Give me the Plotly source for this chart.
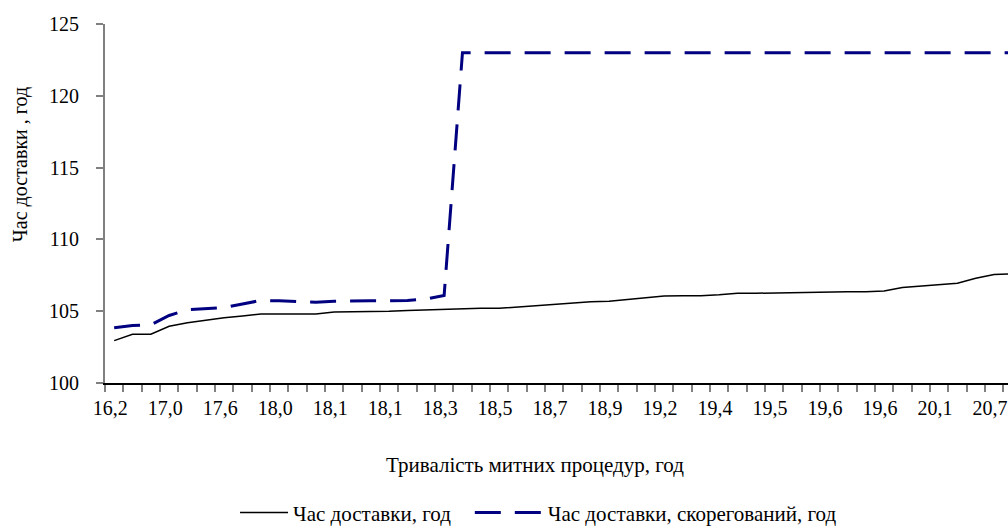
import plotly.graph_objects as go

tick_labels = ["16,2", "17,0", "17,6", "18,0", "18,1", "18,1", "18,3", "18,5", "18,7",
               "18,9", "19,2", "19,4", "19,5", "19,6", "19,6", "20,1", "20,7"]

delivery_time = [102.95, 103.4, 103.4, 103.95, 104.2, 104.4, 104.55, 104.67, 104.8, 104.8,
                 104.8, 104.8, 104.95, 104.95, 104.95, 105.0, 105.05, 105.1, 105.1, 105.15,
                 105.2, 105.2, 105.3, 105.4, 105.5, 105.6, 105.65, 105.7, 105.8, 105.9,
                 106.05, 106.08, 106.08, 106.15, 106.25, 106.25, 106.28, 106.3, 106.33, 106.36,
                 106.36, 106.36, 106.4, 106.65, 106.75, 106.85, 106.95, 107.3, 107.55, 107.6]

delivery_time_adj = [103.85, 104.0, 104.05, 104.7, 105.1, 105.2, 105.25, 105.5, 105.75, 105.72,
                     105.65, 105.62, 105.7, 105.73, 105.73, 105.73, 105.75, 105.85, 106.1, 123.0,
                     123.0, 123.0, 123.0, 123.0, 123.0, 123.0, 123.0, 123.0, 123.0, 123.0,
                     123.0, 123.0, 123.0, 123.0, 123.0, 123.0, 123.0, 123.0, 123.0, 123.0,
                     123.0, 123.0, 123.0, 123.0, 123.0, 123.0, 123.0, 123.0, 123.0, 123.0]

x = list(range(len(delivery_time)))
label_pos = x[::3][:len(tick_labels)]

FONT = "Liberation Serif, Times New Roman, serif"

fig = go.Figure()
fig.add_trace(go.Scatter(x=x, y=delivery_time, mode="lines",
                         line=dict(color="black", width=1.5),
                         name="Час доставки, год", legend="legend"))
fig.add_trace(go.Scatter(x=x, y=delivery_time_adj, mode="lines",
                         line=dict(color="#000080", width=3, dash="26px,14px"),
                         name="Час доставки, скорегований, год", legend="legend2"))

leg_common = dict(orientation="h", xanchor="left", y=-0.362, yanchor="middle",
                  font=dict(size=21), bgcolor="rgba(0,0,0,0)")

fig.update_layout(
    width=1008, height=528,
    margin=dict(l=105, r=0, t=24, b=145, autoexpand=False),
    paper_bgcolor="white", plot_bgcolor="white",
    font=dict(family=FONT, size=20, color="black"),
    showlegend=True,
    legend=dict(x=0.144, itemwidth=48, **leg_common),
    legend2=dict(x=0.404, itemwidth=68, **leg_common),
    annotations=[
        dict(text="Тривалість митних процедур, год", x=0.476, y=-0.228,
             xref="paper", yref="paper", showarrow=False, font=dict(size=21),
             xanchor="center", yanchor="middle"),
        dict(text="Час доставки , год", x=-0.094, y=0.607, textangle=-90,
             xref="paper", yref="paper", showarrow=False, font=dict(size=20),
             xanchor="center", yanchor="middle"),
    ],
)

fig.update_xaxes(
    range=[-0.5, 48.76], showgrid=False, zeroline=False, automargin=False,
    showline=True, linecolor="black", linewidth=2,
    tickmode="array", tickvals=label_pos, ticktext=tick_labels,
    ticks="", ticklabelstandoff=6, ticklabelshift=-4, tickfont=dict(size=20),
    ticklabeloverflow="allow",
    minor=dict(ticks="outside", tickmode="linear", tick0=-0.5, dtick=1,
               ticklen=7, tickwidth=2, tickcolor="#808080", showgrid=False),
)
fig.update_yaxes(
    range=[100, 125], dtick=5, showgrid=False, zeroline=False, automargin=False,
    showline=True, linecolor="#808080", linewidth=2,
    ticks="outside", ticklen=7, tickwidth=2, tickcolor="#808080",
    ticklabelstandoff=13, tickfont=dict(size=20),
)

fig.write_html(
    "out.html",
    config={"displayModeBar": False},
    post_script="document.body.style.margin='0';document.body.style.overflow='hidden';",
)
